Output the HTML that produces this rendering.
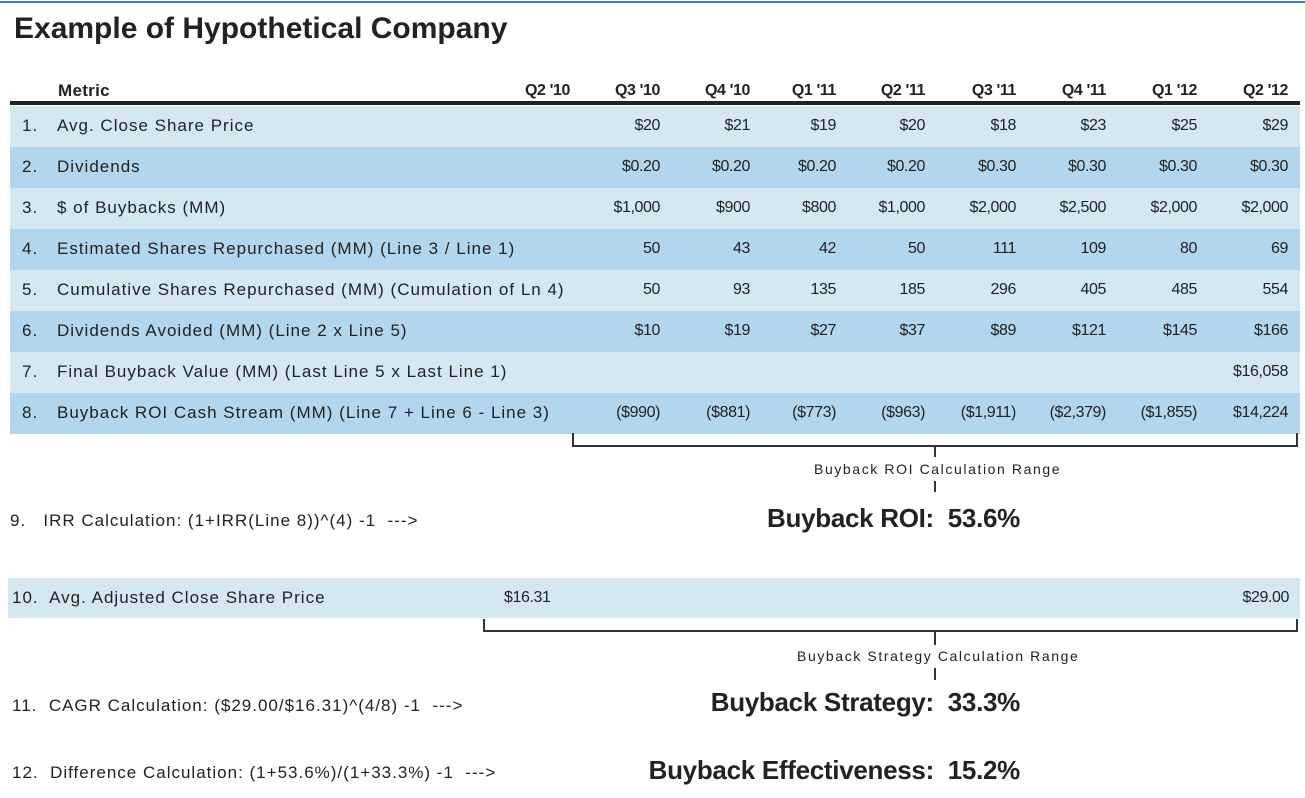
<!DOCTYPE html>
<html><head><meta charset="utf-8"><style>
body{margin:0;width:1305px;height:798px;background:#fff;position:relative;overflow:hidden;font-family:"Liberation Sans",sans-serif;color:#222}
.a{position:absolute;white-space:nowrap}
.t{font-size:16px;letter-spacing:-0.4px;line-height:20px}
.lb{font-size:17px;letter-spacing:1px;line-height:20px}
.row{position:absolute;left:10px;width:1290px;height:41px}
.big{font-size:26px;font-weight:bold;letter-spacing:-0.3px;text-align:right;width:640px;left:380px}
.rng{font-size:14px;letter-spacing:1.6px}
.ln{position:absolute;background:#333}
</style></head><body>
<div class="ln" style="left:0;top:1px;width:1305px;height:2px;background:#4a78c8"></div>
<div class="a" style="left:14px;top:12px;font-size:30px;font-weight:bold;letter-spacing:0px">Example of Hypothetical Company</div>
<div id="tbl"></div>
<div class="ln" style="left:10px;top:101px;width:1290px;height:4px;background:#222"></div>

<div class="ln" style="left:572px;top:445px;width:726px;height:2px"></div>
<div class="ln" style="left:572px;top:433px;width:2px;height:13px"></div>
<div class="ln" style="left:1296px;top:433px;width:2px;height:13px"></div>
<div class="ln" style="left:934px;top:445px;width:2px;height:12px"></div>
<div class="a rng" style="left:814px;top:461px">Buyback ROI Calculation Range</div>
<div class="ln" style="left:934px;top:481px;width:2px;height:11px"></div>
<div class="a lb" style="left:10px;top:511px">9.&nbsp;&nbsp; IRR Calculation: (1+IRR(Line 8))^(4) -1&nbsp; ---&gt;</div>
<div class="a big" style="top:503px">Buyback ROI:&nbsp; 53.6%</div>

<div class="row" style="left:8px;width:1292px;top:578px;height:40px;background:#d5e8f2"></div>
<div class="a lb" style="left:12px;top:588px">10.&nbsp; Avg. Adjusted Close Share Price</div>
<div class="a t" style="left:504px;top:588px">$16.31</div>
<div class="a t" style="right:16px;top:588px">$29.00</div>
<div class="ln" style="left:483px;top:630px;width:815px;height:2px"></div>
<div class="ln" style="left:483px;top:619px;width:2px;height:12px"></div>
<div class="ln" style="left:1296px;top:619px;width:2px;height:12px"></div>
<div class="ln" style="left:934px;top:631px;width:2px;height:14px"></div>
<div class="a rng" style="left:797px;top:648px">Buyback Strategy Calculation Range</div>
<div class="ln" style="left:934px;top:668px;width:2px;height:12px"></div>
<div class="a lb" style="left:12px;top:696px">11.&nbsp; CAGR Calculation: ($29.00/$16.31)^(4/8) -1&nbsp; ---&gt;</div>
<div class="a big" style="top:687px">Buyback Strategy:&nbsp; 33.3%</div>
<div class="a lb" style="left:12px;top:763px">12.&nbsp; Difference Calculation: (1+53.6%)/(1+33.3%) -1&nbsp; ---&gt;</div>
<div class="a big" style="top:755px">Buyback Effectiveness:&nbsp; 15.2%</div>

<script>
const quarters=["Q2 '10","Q3 '10","Q4 '10","Q1 '11","Q2 '11","Q3 '11","Q4 '11","Q1 '12","Q2 '12"];
const labels=["Avg. Close Share Price","Dividends","$ of Buybacks (MM)","Estimated Shares Repurchased (MM) (Line 3 / Line 1)","Cumulative Shares Repurchased (MM) (Cumulation of Ln 4)","Dividends Avoided (MM) (Line 2 x Line 5)","Final Buyback Value (MM) (Last Line 5 x Last Line 1)","Buyback ROI Cash Stream (MM) (Line 7 + Line 6 - Line 3)"];
const r1=["","$20","$21","$19","$20","$18","$23","$25","$29"];
const r2=["","$0.20","$0.20","$0.20","$0.20","$0.30","$0.30","$0.30","$0.30"];
const r3=["","$1,000","$900","$800","$1,000","$2,000","$2,500","$2,000","$2,000"];
const r4=["","50","43","42","50","111","109","80","69"];
const r5=["","50","93","135","185","296","405","485","554"];
const r6=["","$10","$19","$27","$37","$89","$121","$145","$166"];
const r7=["","","","","","","","","$16,058"];
const r8=["","($990)","($881)","($773)","($963)","($1,911)","($2,379)","($1,855)","$14,224"];
const rows=[r1,r2,r3,r4,r5,r6,r7,r8];
const colRight=[570,660,750,836,925,1016,1106,1197,1288];
const tbl=document.getElementById('tbl');
function mk(cls,css,txt){const d=document.createElement('div');d.className=cls;d.style.cssText=css;if(txt!==undefined)d.textContent=txt;tbl.appendChild(d);return d;}
const hm=mk('a t','left:58px;top:81px;font-weight:bold;font-size:17px;letter-spacing:0.3px','Metric');


quarters.forEach((q,i)=>{
  const h=mk('a t','right:'+(1305-colRight[i])+'px;top:81px;font-weight:bold',q);
  
  
});
rows.forEach((r,k)=>{
  const top=106+k*41;
  const bg=mk('row','top:'+top+'px;background:'+(k%2?'#b2d6ed':'#d5e8f2'));
  
  
  const n=mk('a lb','left:22px;top:'+(top+10)+'px',(k+1)+'.');
  
  
  const l=mk('a lb','left:57px;top:'+(top+10)+'px',labels[k]);
  
  
  r.forEach((v,i)=>{
    if(!v)return;
    const c=mk('a t','right:'+(1305-colRight[i])+'px;top:'+(top+10)+'px',v);
    
    
  });
});
</script>
</body></html>
